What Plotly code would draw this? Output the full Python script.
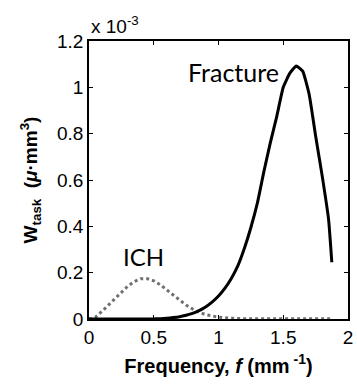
import plotly.graph_objects as go

# Frequency grid (mm^-1)
freq = [0.0, 0.05, 0.10, 0.15, 0.20, 0.25, 0.30, 0.35, 0.40, 0.45, 0.50, 0.55,
        0.60, 0.65, 0.70, 0.75, 0.80, 0.85, 0.90, 0.95, 1.00, 1.05, 1.10, 1.15,
        1.20, 1.25, 1.30, 1.35, 1.40, 1.45, 1.50, 1.55, 1.60, 1.65, 1.70, 1.75,
        1.80, 1.85, 1.875]

# W_task values in units of 1e-3
fracture = [0.0, 0.0, 0.0, 0.0, 0.0, 0.0, 0.0, 0.0, 0.0, 0.0, 0.0005, 0.001,
            0.003, 0.006, 0.010, 0.016, 0.024, 0.036, 0.052, 0.073, 0.099, 0.133, 0.176, 0.230,
            0.305, 0.395, 0.500, 0.635, 0.760, 0.875, 1.000, 1.060, 1.092, 1.070, 0.970, 0.790,
            0.620, 0.430, 0.245]

ich = [0.0, 0.008, 0.033, 0.060, 0.088, 0.117, 0.142, 0.162, 0.174, 0.174, 0.165, 0.148,
       0.125, 0.102, 0.080, 0.060, 0.043, 0.029, 0.019, 0.012, 0.008, 0.005, 0.003, 0.002,
       0.001, 0.001, 0.001, 0.001, 0.001, 0.001, 0.001, 0.001, 0.001, 0.001, 0.001, 0.001,
       0.001, 0.001, 0.001]

x_ticks = [0, 0.5, 1, 1.5, 2]
x_tick_labels = ["0", "0.5", "1", "1.5", "2"]
y_ticks = [0, 0.2, 0.4, 0.6, 0.8, 1.0, 1.2]
y_tick_labels = ["0", "0.2", "0.4", "0.6", "0.8", "1", "1.2"]

fig = go.Figure()
fig.add_trace(go.Scatter(x=freq, y=ich, mode="lines",
                         line=dict(color="#707070", width=3, dash="dot"),
                         showlegend=False))
fig.add_trace(go.Scatter(x=freq, y=fracture, mode="lines",
                         line=dict(color="black", width=3, shape="spline", smoothing=0.4),
                         showlegend=False))

FONT = "Liberation Sans, Arial"
tickfont = dict(family=FONT, size=19, color="black")

fig.update_layout(
    width=357, height=387,
    margin=dict(l=89, r=4, t=41, b=68),
    plot_bgcolor="white", paper_bgcolor="white",
    xaxis=dict(range=[0, 2], tickvals=x_ticks, ticktext=x_tick_labels,
               ticks="inside", ticklen=4, tickcolor="black", tickwidth=1,
               showline=True, linecolor="black", linewidth=1.5, mirror="ticks",
               showgrid=False, zeroline=False, tickfont=tickfont,
               title=dict(text="<b>Frequency, <i>f</i> (mm<sup> -1</sup>)</b>",
                          font=dict(family=FONT, size=20, color="black"),
                          standoff=12)),
    yaxis=dict(range=[0, 1.2], tickvals=y_ticks, ticktext=y_tick_labels,
               ticks="inside", ticklen=4, tickcolor="black", tickwidth=1,
               showline=True, linecolor="black", linewidth=1.5, mirror="ticks",
               showgrid=False, zeroline=False, tickfont=tickfont,
               title=dict(text="<b>W<sub>task</sub>  (<i>μ</i>·mm<sup>3</sup>)</b>",
                          font=dict(family=FONT, size=19, color="black"),
                          standoff=14)),
    annotations=[
        dict(x=0, y=1.0, xref="paper", yref="paper", xanchor="left", yanchor="bottom",
             text="x 10<sup>-3</sup>", showarrow=False, yshift=2,
             font=dict(family=FONT, size=19, color="black")),
        dict(x=1.117, y=1.065, xref="x", yref="y", text="Fracture", showarrow=False,
             xanchor="center", yanchor="middle",
             font=dict(family="Lato", size=25, color="black")),
        dict(x=0.424, y=0.27, xref="x", yref="y", text="ICH", showarrow=False,
             xanchor="center", yanchor="middle",
             font=dict(family="Lato", size=24, color="black")),
    ],
)

fig.write_html("out.html")
